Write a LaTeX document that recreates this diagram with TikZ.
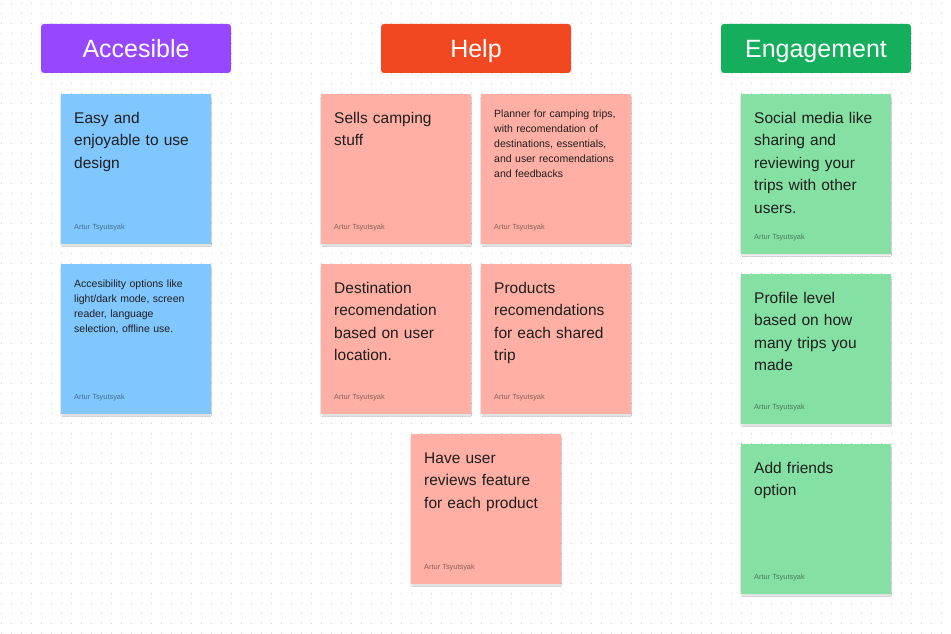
\documentclass[tikz,border=0pt]{standalone}
\usepackage{fontspec}
\setmainfont{Liberation Sans}
\usetikzlibrary{shadows.blur}

\definecolor{dotgray}{HTML}{C9C9C9}
\definecolor{hdrpurple}{HTML}{9747FF}
\definecolor{hdrred}{HTML}{F24822}
\definecolor{hdrgreen}{HTML}{14AE5C}
\definecolor{noteblue}{HTML}{80C7FF}
\definecolor{notesalmon}{HTML}{FFAFA3}
\definecolor{notegreen}{HTML}{85E0A3}
\definecolor{inkdark}{HTML}{1E1E1E}

\tikzset{
  header/.style={draw=none, minimum width=190pt, minimum height=49pt,
    rounded corners=3pt, text=white, inner sep=0pt, text height=18pt, text depth=0pt,
    font=\fontsize{25}{25}\selectfont},
  notebox/.style={draw=none, minimum width=150pt, inner sep=0pt, anchor=north west,
    blur shadow={shadow xshift=0pt, shadow yshift=-2pt, shadow opacity=18,
      shadow scale=0.985, shadow blur radius=1.6pt, shadow blur steps=6}},
  bigtext/.style={anchor=north west, inner sep=0pt, text width=135pt, align=left,
    text=inkdark, font=\fontsize{15.5}{22.5}\selectfont},
  smalltext/.style={anchor=north west, inner sep=0pt, text width=135pt, align=left,
    text=inkdark, font=\fontsize{10.5}{15}\selectfont},
  author/.style={anchor=base west, inner sep=0pt, text=black, text opacity=0.45,
    font=\fontsize{7.4}{9}\selectfont},
}

% #1 name, #2 left, #3 top, #4 height, #5 colour, #6 text style, #7 text offset, #8 text
\newcommand\stickynote[8]{%
  \node[notebox, fill=#5, minimum height=#4pt] (#1) at (#2,#3) {};
  \path (#1.north west) ++(13,#7) node[#6] (#1-text) {\strut #8};
  \path (#1.south west) ++(13,-14.5) node[author] (#1-author) {Artur Tsyutsyak};
}

\begin{document}
\begin{tikzpicture}[x=1pt, y=-1pt]
  \useasboundingbox[fill=white] (0,0) rectangle (951,634);

  % dotted canvas
  \foreach \i in {0,...,94} {
    \foreach \j in {0,...,63} {
      \fill[dotgray] ({0.9+10*\i},{2.9+10*\j}) rectangle ++(1.3,1.3);
    }
  }

  % column headers
  \node[header, fill=hdrpurple] (accesible) at (136,48.5) {Accesible};
  \node[header, fill=hdrred] (help) at (476,48.5) {Help};
  \node[header, fill=hdrgreen] (engagement) at (816,48.5) {Engagement};

  % Accesible column
  \stickynote{acc1}{61}{94}{150}{noteblue}{bigtext}{13.25}{Easy and\\enjoyable to use\\design}
  \stickynote{acc2}{61}{264}{150}{noteblue}{smalltext}{12.5}{Accesibility options like\\light/dark mode, screen\\reader, language\\selection, offline use.}

  % Help column
  \stickynote{help1}{321}{94}{150}{notesalmon}{bigtext}{13.25}{Sells camping\\stuff}
  \stickynote{help2}{481}{94}{150}{notesalmon}{smalltext}{12.5}{Planner for camping trips,\\with recomendation of\\destinations, essentials,\\and user recomendations\\and feedbacks}
  \stickynote{help3}{321}{264}{150}{notesalmon}{bigtext}{13.25}{Destination\\recomendation\\based on user\\location.}
  \stickynote{help4}{481}{264}{150}{notesalmon}{bigtext}{13.25}{Products\\recomendations\\for each shared\\trip}
  \stickynote{help5}{411}{434}{150}{notesalmon}{bigtext}{13.25}{Have user\\reviews feature\\for each product}

  % Engagement column
  \stickynote{eng1}{741}{94}{160}{notegreen}{bigtext}{13.25}{Social media like\\sharing and\\reviewing your\\trips with other\\users.}
  \stickynote{eng2}{741}{274}{150}{notegreen}{bigtext}{13.25}{Profile level\\based on how\\many trips you\\made}
  \stickynote{eng3}{741}{444}{150}{notegreen}{bigtext}{13.25}{Add friends\\option}
\end{tikzpicture}
\end{document}
